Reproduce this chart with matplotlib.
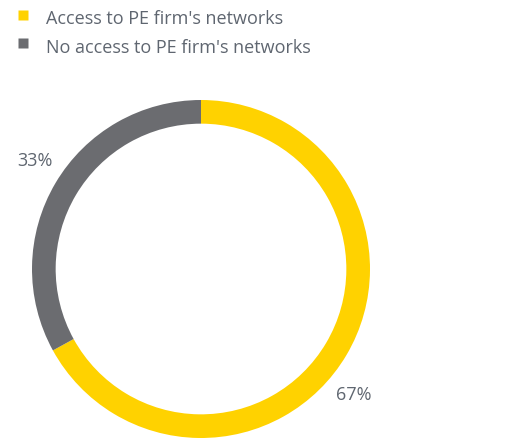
import matplotlib
matplotlib.use("Agg")
import matplotlib.pyplot as plt
from matplotlib.lines import Line2D

categories = ["Access to PE firm's networks", "No access to PE firm's networks"]
values = [67, 33]
labels = ["67%", "33%"]
colors = ["#FFD200", "#6B6C70"]

plt.rcParams['font.family'] = ['Open Sans', 'DejaVu Sans']
text_color = "#5F6670"

W, H = 512, 439
fig = plt.figure(figsize=(W / 100, H / 100), dpi=100)
ax = fig.add_axes([0, 0, 1, 1])
R = 169.0
cx, cy = 201.0, 270.0
ax.axis('off')

wedges, _ = ax.pie(values, colors=colors, startangle=90, counterclock=False,
                   radius=1.0, wedgeprops=dict(width=0.14, edgecolor='none'))
ax.set_aspect('auto')
ax.set_xlim(-cx / R, (W - cx) / R)
ax.set_ylim(-(H - cy) / R, cy / R)

def px(x, y):
    return x / W, 1 - y / H

# percentage labels (left edge, baseline in pixels)
for lab, (x, y) in zip(labels, [(336, 400), (17, 166.5)]):
    fig.text(*px(x, y), lab, ha='left', va='baseline', fontsize=13, color=text_color)

# legend
for i, (cat, c) in enumerate(zip(categories, colors)):
    my = 15.5 + 28.5 * i
    fig.add_artist(Line2D([px(22.5, my)[0]], [px(22.5, my)[1]], marker='s',
                          linestyle='none', markersize=6.5, markerfacecolor=c,
                          markeredgecolor='none', transform=fig.transFigure))
    fig.text(*px(46, 24 + 29 * i), cat, ha='left', va='baseline', fontsize=13,
             color=text_color)

fig.savefig("out.png", dpi=100)
